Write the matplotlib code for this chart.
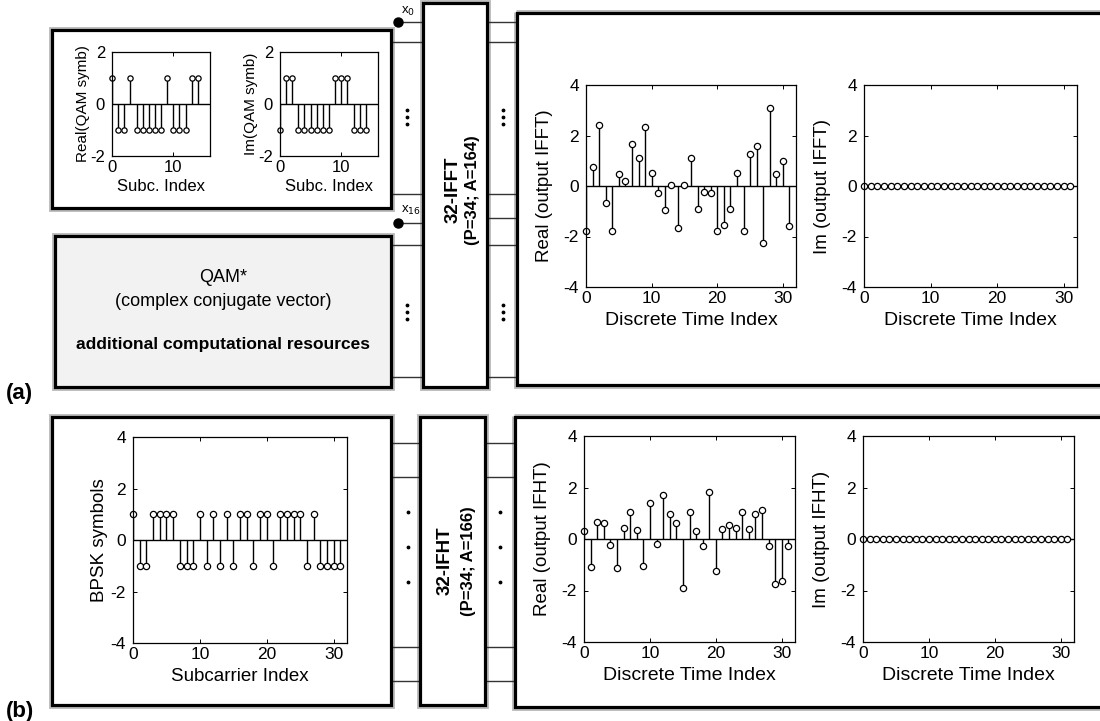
import numpy as np
import matplotlib
matplotlib.use("Agg")
import matplotlib.pyplot as plt
from matplotlib.patches import Rectangle

plt.rcParams['font.family'] = ['Liberation Sans', 'DejaVu Sans']
plt.rcParams['axes.unicode_minus'] = False

# ---- data ----
# QAM symbols (15 subcarriers, index 0..14)
qam_real = [1, -1, -1, 1, -1, -1, -1, -1, -1, 1, -1, -1, -1, 1, 1]
qam_imag = [-1, 1, 1, -1, -1, -1, -1, -1, -1, 1, 1, 1, -1, -1, -1]

ifft_real = [-1.77, 0.75, 2.4, -0.68, -1.77, 0.46, 0.21, 1.65, 1.09, 2.35, 0.52, -0.28,
             -0.95, 0.05, -1.65, 0.05, 1.09, -0.91, -0.23, -0.28, -1.77, -1.53, -0.91, 0.52,
             -1.77, 1.25, 1.6, -2.24, 3.09, 0.46, 0.98, -1.6]
ifft_imag = [0.0] * 32

bpsk = [1, -1, -1, 1, 1, 1, 1, -1, -1, -1, 1, -1, 1, -1, 1, -1,
        1, 1, -1, 1, 1, -1, 1, 1, 1, 1, -1, 1, -1, -1, -1, -1]

ifht_real = [0.32, -1.07, 0.66, 0.61, -0.23, -1.11, 0.44, 1.06, 0.34, -1.06, 1.38, -0.18,
             1.72, 0.98, 0.61, -1.9, 1.06, 0.32, -0.28, 1.83, -1.24, 0.37, 0.55, 0.44,
             1.06, 0.37, 0.98, 1.11, -0.28, -1.74, -1.63, -0.28]
ifht_imag = [0.0] * 32

W, H = 1100, 721
fig = plt.figure(figsize=(W / 100, H / 100), dpi=100)

# canvas in pixel coords for the block diagram
cv = fig.add_axes([0, 0, 1, 1])
cv.set_xlim(0, W)
cv.set_ylim(H, 0)
cv.axis('off')


def box(x0, y0, x1, y1, fc='white'):
    cv.add_patch(Rectangle((x0 - 1, y0 - 1), x1 - x0 + 2, y1 - y0 + 2, fc='none', ec='#bbbbbb', lw=3.5, zorder=1))
    cv.add_patch(Rectangle((x0, y0), x1 - x0, y1 - y0, fc=fc, ec='black', lw=2.3, zorder=2))


def wire(x0, x1, y):
    cv.plot([x0, x1], [y, y], color='#333333', lw=1.0, zorder=1)


def vdots(x, y0, step):
    cv.plot([x] * 3, [y0, y0 + step, y0 + 2 * step], 'k.', ms=3.5, zorder=3)


# ----- (a) -----
box(52, 30, 391, 208)
box(55, 236, 391, 387, fc='#f2f2f2')
box(423, 3, 487, 387)
box(517, 13, 1110, 385)

for y in [42, 194, 245, 377]:
    wire(391, 423, y)
for y in [22, 223]:
    wire(398, 423, y)
for y in [22, 42, 194, 218, 245, 377]:
    wire(487, 517, y)
cv.plot([398, 398], [22, 223], 'ko', ms=6.5, zorder=4)
cv.text(401, 11, 'x$_0$', fontsize=9.5, ha='left', va='center')
cv.text(401, 210, 'x$_{16}$', fontsize=9.5, ha='left', va='center')
vdots(407, 110, 7)
vdots(407, 305, 7)
vdots(503, 110, 7)
vdots(503, 305, 7)

cv.text(453, 190, '32-IFFT', rotation=90, fontsize=13.5, fontweight='bold', ha='center', va='center')
cv.text(472, 190, '(P=34; A=164)', rotation=90, fontsize=12, fontweight='bold', ha='center', va='center')

cv.text(223, 278, 'QAM*', fontsize=13, ha='center', va='center')
cv.text(223, 302, '(complex conjugate vector)', fontsize=13, ha='center', va='center')
cv.text(223, 345, 'additional computational resources', fontsize=12.5, fontweight='bold',
        ha='center', va='center')
cv.text(6, 393, '(a)', fontsize=16, fontweight='bold', ha='left', va='center')

# ----- (b) -----
box(52, 417, 391, 705)
box(420, 417, 485, 705)
box(515, 417, 1110, 707)
for y in [443, 477, 647, 681]:
    wire(391, 420, y)
    wire(485, 515, y)
vdots(408, 512, 35)
vdots(500, 512, 35)
cv.text(445, 561, '32-IFHT', rotation=90, fontsize=13.5, fontweight='bold', ha='center', va='center')
cv.text(468, 561, '(P=34; A=166)', rotation=90, fontsize=12, fontweight='bold', ha='center', va='center')
cv.text(6, 711, '(b)', fontsize=16, fontweight='bold', ha='left', va='center')


def px_axes(l, t, r, b):
    return fig.add_axes([l / W, 1 - b / H, (r - l) / W, (b - t) / H])


def stem_plot(ax, vals, xmax, ylim, yticks, xticks, xlabel, ylabel,
              fs_tick, fs_xlab, fs_ylab, ms, ypad, xpad):
    n = np.arange(len(vals))
    ml, sl, bl = ax.stem(n, vals, linefmt='k-', markerfmt='ko', basefmt='none')
    ml.set_markerfacecolor('white')
    ml.set_markersize(ms)
    ml.set_markeredgewidth(0.9)
    ml.set_clip_on(False)
    sl.set_linewidth(1.0)
    ax.axhline(0, color='black', lw=1.0, zorder=1)
    ax.set_xlim(0, xmax)
    ax.set_ylim(*ylim)
    ax.set_yticks(yticks)
    ax.set_xticks(xticks)
    ax.tick_params(direction='in', top=True, right=True, length=3, width=0.7,
                   labelsize=fs_tick)
    ax.tick_params(axis='y', pad=5)
    ax.tick_params(axis='x', pad=3)
    for s in ax.spines.values():
        s.set_linewidth(0.9)
    ax.set_xlabel(xlabel, fontsize=fs_xlab, labelpad=xpad)
    ax.set_ylabel(ylabel, fontsize=fs_ylab, labelpad=ypad)


ax = px_axes(112, 52, 210, 156)
stem_plot(ax, qam_real, 16, (-2, 2), [-2, 0, 2], [0, 10], 'Subc. Index', 'Real(QAM symb)',
          12, 12, 11, 3.8, 0, 3)
ax = px_axes(280, 52, 378, 156)
stem_plot(ax, qam_imag, 16, (-2, 2), [-2, 0, 2], [0, 10], 'Subc. Index', 'Im(QAM symb)',
          12, 12, 11, 3.8, 0, 3)

ax = px_axes(586, 85, 796, 287)
stem_plot(ax, ifft_real, 32, (-4, 4), [-4, -2, 0, 2, 4], [0, 10, 20, 30],
          'Discrete Time Index', 'Real (output IFFT)', 12.5, 14, 13.5, 4.5, 8, 4)
ax = px_axes(864, 85, 1077, 287)
stem_plot(ax, ifft_imag, 32, (-4, 4), [-4, -2, 0, 2, 4], [0, 10, 20, 30],
          'Discrete Time Index', 'Im (output IFFT)', 12.5, 14, 13.5, 4.5, 8, 4)

ax = px_axes(133, 437, 347, 643)
stem_plot(ax, bpsk, 32, (-4, 4), [-4, -2, 0, 2, 4], [0, 10, 20, 30],
          'Subcarrier Index', 'BPSK symbols', 12.5, 13.5, 13.5, 4.5, 2, 4)
ax = px_axes(584, 436, 795, 642)
stem_plot(ax, ifht_real, 32, (-4, 4), [-4, -2, 0, 2, 4], [0, 10, 20, 30],
          'Discrete Time Index', 'Real (output IFHT)', 12.5, 14, 13.5, 4.5, 8, 4)
ax = px_axes(863, 436, 1074, 642)
stem_plot(ax, ifht_imag, 32, (-4, 4), [-4, -2, 0, 2, 4], [0, 10, 20, 30],
          'Discrete Time Index', 'Im (output IFHT)', 12.5, 14, 13.5, 4.5, 8, 4)

fig.savefig('out.png', dpi=100)
